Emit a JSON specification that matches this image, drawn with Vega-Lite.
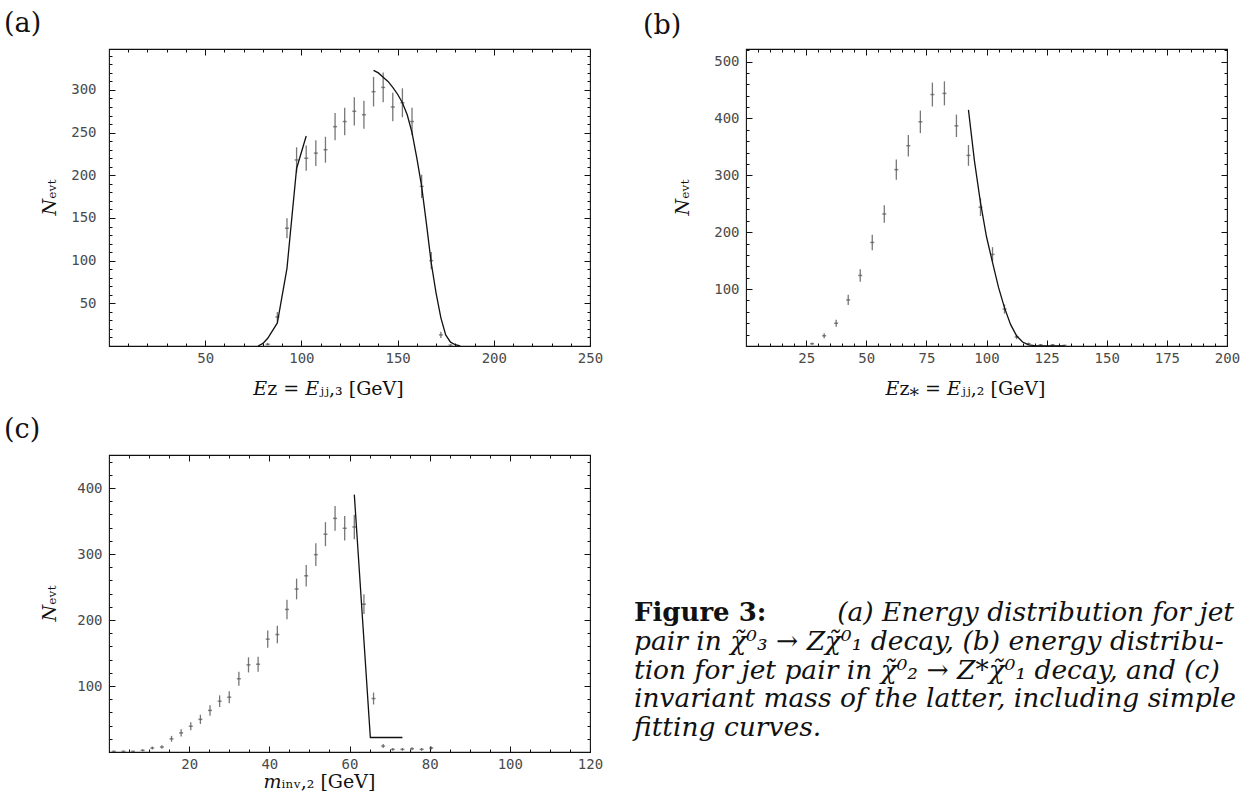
{
"$schema": "https://vega.github.io/schema/vega-lite/v6.json",
"background": "white",
"padding": {"left": 3, "top": 8, "right": 0, "bottom": 0},
"autosize": {"type": "pad"},
"columns": 2,
"spacing": {"row": 109, "column": 156},
"bounds": "flush",
"resolve": {"scale": {"x": "independent", "y": "independent"}},
"config": {
  "view": {"stroke": "#111", "strokeWidth": 1.1},
  "axis": {"domain": false, "grid": false, "labelFont": "DejaVu Sans Mono", "labelFontSize": 14, "labelColor": "#4a4a4a", "titleFont": "DejaVu Serif", "titleFontSize": 19, "titleFontWeight": "normal", "titleColor": "#111", "tickColor": "#111", "tickWidth": 1, "labelOverlap": false, "labelBound": false, "labelFlush": false},
  "title": {"font": "DejaVu Serif", "fontSize": 27, "fontWeight": "normal", "anchor": "start", "baseline": "alphabetic", "offset": 11, "color": "#111"},
  "text": {"font": "DejaVu Serif"}
},
"datasets": {
  "a_pts": [
    {"x":82.5,"n":2,"lo":0.6,"hi":3.4},{"x":87.5,"n":34,"lo":28.2,"hi":39.8},{"x":92.5,"n":138,"lo":126.3,"hi":149.7},
    {"x":97.5,"n":218,"lo":203.2,"hi":232.8},{"x":102.5,"n":220,"lo":205.2,"hi":234.8},{"x":107.5,"n":226,"lo":211,"hi":241},
    {"x":112.5,"n":230,"lo":214.8,"hi":245.2},{"x":117.5,"n":257,"lo":241,"hi":273},{"x":122.5,"n":263,"lo":246.8,"hi":279.2},
    {"x":127.5,"n":275,"lo":258.4,"hi":291.6},{"x":132.5,"n":271,"lo":254.5,"hi":287.5},{"x":137.5,"n":298,"lo":280.7,"hi":315.3},
    {"x":142.5,"n":303,"lo":285.6,"hi":320.4},{"x":147.5,"n":280,"lo":263.3,"hi":296.7},{"x":152.5,"n":285,"lo":268.1,"hi":301.9},
    {"x":157.5,"n":263,"lo":246.8,"hi":279.2},{"x":162.5,"n":187,"lo":173.3,"hi":200.7},{"x":167.5,"n":100,"lo":90,"hi":110},
    {"x":172.5,"n":13,"lo":9.4,"hi":16.6},{"x":177.5,"n":1,"lo":0,"hi":2}
  ],
  "a_fit": [
    {"seg":1,"x":77.5,"n":0},{"seg":1,"x":80,"n":3},{"seg":1,"x":82.5,"n":9},{"seg":1,"x":87.5,"n":27},{"seg":1,"x":92.5,"n":91},{"seg":1,"x":97.5,"n":208},{"seg":1,"x":102.5,"n":246},
    {"seg":2,"x":137.5,"n":323},{"seg":2,"x":140,"n":320},{"seg":2,"x":142.5,"n":315},{"seg":2,"x":145,"n":310},{"seg":2,"x":147.5,"n":303},{"seg":2,"x":150,"n":295},{"seg":2,"x":152.5,"n":285},{"seg":2,"x":155,"n":271},{"seg":2,"x":157.5,"n":250},{"seg":2,"x":160,"n":220},{"seg":2,"x":162.5,"n":187},{"seg":2,"x":165,"n":143},{"seg":2,"x":167.5,"n":97},{"seg":2,"x":170,"n":62},{"seg":2,"x":172.5,"n":33},{"seg":2,"x":175,"n":13},{"seg":2,"x":177.5,"n":4.5},{"seg":2,"x":180,"n":1.5},{"seg":2,"x":182.5,"n":0}
  ],
  "b_pts": [
    {"x":27.5,"n":4,"lo":2,"hi":6},{"x":32.5,"n":18,"lo":13.8,"hi":22.2},{"x":37.5,"n":40,"lo":33.7,"hi":46.3},
    {"x":42.5,"n":81,"lo":72,"hi":90},{"x":47.5,"n":124,"lo":112.9,"hi":135.1},{"x":52.5,"n":182,"lo":168.5,"hi":195.5},
    {"x":57.5,"n":232,"lo":216.8,"hi":247.2},{"x":62.5,"n":310,"lo":292.4,"hi":327.6},{"x":67.5,"n":352,"lo":333.2,"hi":370.8},
    {"x":72.5,"n":394,"lo":374.2,"hi":413.8},{"x":77.5,"n":442,"lo":421,"hi":463},{"x":82.5,"n":444,"lo":422.9,"hi":465.1},
    {"x":87.5,"n":387,"lo":367.3,"hi":406.7},{"x":92.5,"n":335,"lo":316.7,"hi":353.3},{"x":97.5,"n":244,"lo":228.4,"hi":259.6},
    {"x":102.5,"n":161,"lo":148.3,"hi":173.7},{"x":107.5,"n":65,"lo":56.9,"hi":73.1},{"x":112.5,"n":16,"lo":12,"hi":20},
    {"x":117.5,"n":4,"lo":2,"hi":6},{"x":122.5,"n":2,"lo":0.6,"hi":3.4},{"x":127.5,"n":2,"lo":0.6,"hi":3.4},{"x":132.5,"n":1,"lo":0,"hi":2}
  ],
  "b_fit": [
    {"x":92.5,"n":415},{"x":95,"n":325},{"x":97.5,"n":252},{"x":100,"n":192},{"x":102.5,"n":147},{"x":105,"n":103},{"x":107.5,"n":67},{"x":110,"n":38},{"x":112.5,"n":18},{"x":115,"n":7},{"x":117.5,"n":2},{"x":120,"n":0.6},{"x":125,"n":0.3},{"x":132.5,"n":0.3}
  ],
  "c_pts": [
    {"x":1.2,"n":1,"lo":0,"hi":2},{"x":3.6,"n":1,"lo":0,"hi":2},{"x":6.0,"n":1,"lo":0,"hi":2},
    {"x":8.4,"n":2.5,"lo":0.9,"hi":4.1},{"x":10.8,"n":6,"lo":3.6,"hi":8.4},{"x":13.2,"n":7.6,"lo":4.8,"hi":10.4},
    {"x":15.6,"n":20,"lo":15.5,"hi":24.5},{"x":18.0,"n":29,"lo":23.6,"hi":34.4},{"x":20.4,"n":39,"lo":32.8,"hi":45.2},
    {"x":22.8,"n":49.5,"lo":42.5,"hi":56.5},{"x":25.2,"n":63,"lo":55.1,"hi":70.9},{"x":27.6,"n":77,"lo":68.2,"hi":85.8},
    {"x":30.0,"n":83,"lo":73.9,"hi":92.1},{"x":32.4,"n":111,"lo":100.5,"hi":121.5},{"x":34.8,"n":132,"lo":120.5,"hi":143.5},
    {"x":37.2,"n":133,"lo":121.5,"hi":144.5},{"x":39.6,"n":171,"lo":157.9,"hi":184.1},{"x":42.0,"n":178,"lo":164.7,"hi":191.3},
    {"x":44.4,"n":216,"lo":201.3,"hi":230.7},{"x":46.8,"n":247,"lo":231.3,"hi":262.7},{"x":49.2,"n":267,"lo":250.7,"hi":283.3},
    {"x":51.6,"n":299,"lo":281.7,"hi":316.3},{"x":54.0,"n":330,"lo":311.8,"hi":348.2},{"x":56.4,"n":354,"lo":335.2,"hi":372.8},
    {"x":58.8,"n":339,"lo":320.6,"hi":357.4},{"x":61.2,"n":341,"lo":322.5,"hi":359.5},{"x":63.6,"n":224,"lo":209,"hi":239},
    {"x":66.0,"n":81,"lo":72,"hi":90},{"x":68.4,"n":9,"lo":6,"hi":12},{"x":70.8,"n":4,"lo":2,"hi":6},
    {"x":73.2,"n":4,"lo":2,"hi":6},{"x":75.6,"n":5,"lo":2.8,"hi":7.2},{"x":78.0,"n":4,"lo":2,"hi":6},{"x":80.4,"n":6,"lo":3.6,"hi":8.4}
  ],
  "c_fit": [
    {"x":61.2,"n":390},{"x":65.2,"n":22},{"x":73.2,"n":22}
  ],
  "caption": [
    {"line":1,"side":"left","style":"bold","text":"Figure 3:"},
    {"line":1,"side":"right","style":"italic","text":"(a) Energy distribution for jet"},
    {"line":2,"side":"left","style":"italic","text":"pair in χ̃⁰₃ → Zχ̃⁰₁ decay, (b) energy distribu-"},
    {"line":3,"side":"left","style":"italic","text":"tion for jet pair in χ̃⁰₂ → Z*χ̃⁰₁ decay, and (c)"},
    {"line":4,"side":"left","style":"italic","text":"invariant mass of the latter, including simple"},
    {"line":5,"side":"left","style":"italic","text":"fitting curves."}
  ]
},
"concat": [
  {
    "width": 481, "height": 297,
    "title": {"text": "(a)", "dx": -36},
    "resolve": {"axis": {"x": "independent", "y": "independent"}},
    "layer": [
      {"data": {"name": "a_pts"}, "mark": {"type": "rule", "color": "#777", "strokeWidth": 1.3},
       "encoding": {
         "x": {"field": "x", "type": "quantitative", "scale": {"domain": [0, 250], "nice": false, "zero": false},
               "axis": {"orient": "bottom", "values": [10,20,30,40,50,60,70,80,90,100,110,120,130,140,150,160,170,180,190,200,210,220,230,240,250],
                        "labelExpr": "datum.value % 50 === 0 ? datum.label : ''",
                        "tickSize": {"condition": {"test": "datum.value % 50 === 0", "value": -6}, "value": -3},
                        "labelPadding": 11, "title": "𝐸ᴢ = 𝐸ⱼⱼ,₃ [GeV]", "titleX": 219, "titleY": 48, "titleBaseline": "alphabetic", "titleAlign": "center", "titleAngle": 0}},
         "y": {"field": "lo", "type": "quantitative", "scale": {"domain": [0, 348], "nice": false, "zero": false},
               "axis": {"orient": "left", "values": [10,20,30,40,50,60,70,80,90,100,110,120,130,140,150,160,170,180,190,200,210,220,230,240,250,260,270,280,290,300,310,320,330,340],
                        "labelExpr": "datum.value % 50 === 0 ? datum.label : ''",
                        "tickSize": {"condition": {"test": "datum.value % 50 === 0", "value": -6}, "value": -3},
                        "labelPadding": 19, "title": "𝑁ₑᵥₜ", "titleX": -60, "titleY": 148, "titleBaseline": "middle", "titleAlign": "center", "titleAngle": -90}},
         "y2": {"field": "hi"}
       }},
      {"data": {"name": "a_pts"}, "mark": {"type": "tick", "orient": "horizontal", "size": 4, "thickness": 1.5, "color": "#555"},
       "encoding": {
         "x": {"field": "x", "type": "quantitative",
               "axis": {"orient": "top", "values": [10,20,30,40,50,60,70,80,90,100,110,120,130,140,150,160,170,180,190,200,210,220,230,240,250], "labels": false, "title": null,
                        "tickSize": {"condition": {"test": "datum.value % 50 === 0", "value": -6}, "value": -3}}},
         "y": {"field": "n", "type": "quantitative",
               "axis": {"orient": "right", "values": [10,20,30,40,50,60,70,80,90,100,110,120,130,140,150,160,170,180,190,200,210,220,230,240,250,260,270,280,290,300,310,320,330,340], "labels": false, "title": null,
                        "tickSize": {"condition": {"test": "datum.value % 50 === 0", "value": -6}, "value": -3}}}
       }},
      {"data": {"name": "a_fit"}, "mark": {"type": "line", "color": "#111", "strokeWidth": 1.3},
       "encoding": {
         "x": {"field": "x", "type": "quantitative", "axis": null},
         "y": {"field": "n", "type": "quantitative", "axis": null},
         "detail": {"field": "seg", "type": "nominal"}
       }}
    ]
  },
  {
    "width": 481, "height": 297,
    "title": {"text": "(b)", "dx": -30, "offset": 3},
    "resolve": {"axis": {"x": "independent", "y": "independent"}},
    "layer": [
      {"data": {"name": "b_pts"}, "mark": {"type": "rule", "color": "#777", "strokeWidth": 1.3},
       "encoding": {
         "x": {"field": "x", "type": "quantitative", "scale": {"domain": [0, 200], "nice": false, "zero": false},
               "axis": {"orient": "bottom", "values": [5,10,15,20,25,30,35,40,45,50,55,60,65,70,75,80,85,90,95,100,105,110,115,120,125,130,135,140,145,150,155,160,165,170,175,180,185,190,195,200],
                        "labelExpr": "datum.value % 25 === 0 ? datum.label : ''",
                        "tickSize": {"condition": {"test": "datum.value % 25 === 0", "value": -6}, "value": -3},
                        "labelPadding": 11, "title": "𝐸ᴢ⁎ = 𝐸ⱼⱼ,₂ [GeV]", "titleX": 219, "titleY": 48, "titleBaseline": "alphabetic", "titleAlign": "center", "titleAngle": 0}},
         "y": {"field": "lo", "type": "quantitative", "scale": {"domain": [0, 522], "nice": false, "zero": false},
               "axis": {"orient": "left", "values": [20,40,60,80,100,120,140,160,180,200,220,240,260,280,300,320,340,360,380,400,420,440,460,480,500,520],
                        "labelExpr": "datum.value % 100 === 0 ? datum.label : ''",
                        "tickSize": {"condition": {"test": "datum.value % 100 === 0", "value": -6}, "value": -3},
                        "labelPadding": 13, "title": "𝑁ₑᵥₜ", "titleX": -64, "titleY": 148, "titleBaseline": "middle", "titleAlign": "center", "titleAngle": -90}},
         "y2": {"field": "hi"}
       }},
      {"data": {"name": "b_pts"}, "mark": {"type": "tick", "orient": "horizontal", "size": 4, "thickness": 1.5, "color": "#555"},
       "encoding": {
         "x": {"field": "x", "type": "quantitative",
               "axis": {"orient": "top", "values": [5,10,15,20,25,30,35,40,45,50,55,60,65,70,75,80,85,90,95,100,105,110,115,120,125,130,135,140,145,150,155,160,165,170,175,180,185,190,195,200], "labels": false, "title": null,
                        "tickSize": {"condition": {"test": "datum.value % 25 === 0", "value": -6}, "value": -3}}},
         "y": {"field": "n", "type": "quantitative",
               "axis": {"orient": "right", "values": [20,40,60,80,100,120,140,160,180,200,220,240,260,280,300,320,340,360,380,400,420,440,460,480,500,520], "labels": false, "title": null,
                        "tickSize": {"condition": {"test": "datum.value % 100 === 0", "value": -6}, "value": -3}}}
       }},
      {"data": {"name": "b_fit"}, "mark": {"type": "line", "color": "#111", "strokeWidth": 1.3},
       "encoding": {
         "x": {"field": "x", "type": "quantitative", "axis": null},
         "y": {"field": "n", "type": "quantitative", "axis": null}
       }}
    ]
  },
  {
    "width": 481, "height": 297,
    "title": {"text": "(c)", "dx": -36},
    "resolve": {"axis": {"x": "independent", "y": "independent"}},
    "layer": [
      {"data": {"name": "c_pts"}, "mark": {"type": "rule", "color": "#777", "strokeWidth": 1.3},
       "encoding": {
         "x": {"field": "x", "type": "quantitative", "scale": {"domain": [0, 120], "nice": false, "zero": false},
               "axis": {"orient": "bottom", "values": [5,10,15,20,25,30,35,40,45,50,55,60,65,70,75,80,85,90,95,100,105,110,115,120],
                        "labelExpr": "datum.value % 20 === 0 ? datum.label : ''",
                        "tickSize": {"condition": {"test": "datum.value % 20 === 0", "value": -6}, "value": -3},
                        "labelPadding": 11, "title": "𝑚ᵢₙᵥ,₂ [GeV]", "titleX": 210, "titleY": 35, "titleBaseline": "alphabetic", "titleAlign": "center", "titleAngle": 0}},
         "y": {"field": "lo", "type": "quantitative", "scale": {"domain": [0, 450], "nice": false, "zero": false},
               "axis": {"orient": "left", "values": [20,40,60,80,100,120,140,160,180,200,220,240,260,280,300,320,340,360,380,400,420,440],
                        "labelExpr": "datum.value % 100 === 0 ? datum.label : ''",
                        "tickSize": {"condition": {"test": "datum.value % 100 === 0", "value": -6}, "value": -3},
                        "labelPadding": 13, "title": "𝑁ₑᵥₜ", "titleX": -60, "titleY": 148, "titleBaseline": "middle", "titleAlign": "center", "titleAngle": -90}},
         "y2": {"field": "hi"}
       }},
      {"data": {"name": "c_pts"}, "mark": {"type": "tick", "orient": "horizontal", "size": 4, "thickness": 1.5, "color": "#555"},
       "encoding": {
         "x": {"field": "x", "type": "quantitative",
               "axis": {"orient": "top", "values": [5,10,15,20,25,30,35,40,45,50,55,60,65,70,75,80,85,90,95,100,105,110,115,120], "labels": false, "title": null,
                        "tickSize": {"condition": {"test": "datum.value % 20 === 0", "value": -6}, "value": -3}}},
         "y": {"field": "n", "type": "quantitative",
               "axis": {"orient": "right", "values": [20,40,60,80,100,120,140,160,180,200,220,240,260,280,300,320,340,360,380,400,420,440], "labels": false, "title": null,
                        "tickSize": {"condition": {"test": "datum.value % 100 === 0", "value": -6}, "value": -3}}}
       }},
      {"data": {"name": "c_fit"}, "mark": {"type": "line", "color": "#111", "strokeWidth": 1.3},
       "encoding": {
         "x": {"field": "x", "type": "quantitative", "axis": null},
         "y": {"field": "n", "type": "quantitative", "axis": null}
       }}
    ]
  },
  {
    "width": 481, "height": 297,
    "view": {"stroke": null},
    "data": {"name": "caption"},
    "encoding": {
      "x": {"field": "side", "type": "nominal", "scale": {"type": "point", "domain": ["left", "right"], "range": [-112, 488], "padding": 0}, "axis": null},
      "y": {"field": "line", "type": "ordinal", "scale": {"type": "point", "domain": [1,2,3,4,5], "range": [158, 273], "padding": 0}, "axis": null},
      "text": {"field": "text"}
    },
    "layer": [
      {"transform": [{"filter": "datum.style === 'bold'"}],
       "mark": {"type": "text", "align": "left", "baseline": "middle", "font": "DejaVu Serif", "fontSize": 26, "fontWeight": "bold", "color": "#111"}},
      {"transform": [{"filter": "datum.style === 'italic' && datum.side === 'left'"}],
       "mark": {"type": "text", "align": "left", "baseline": "middle", "font": "DejaVu Serif", "fontSize": 26.5, "fontStyle": "italic", "color": "#111"}},
      {"transform": [{"filter": "datum.style === 'italic' && datum.side === 'right'"}],
       "mark": {"type": "text", "align": "right", "baseline": "middle", "font": "DejaVu Serif", "fontSize": 26.5, "fontStyle": "italic", "color": "#111"}}
    ]
  }
]
}
